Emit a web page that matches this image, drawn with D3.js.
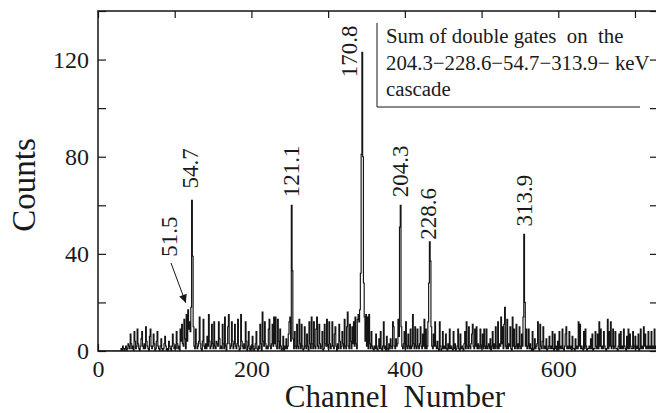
<!DOCTYPE html>
<html><head><meta charset="utf-8">
<script src="https://cdn.jsdelivr.net/npm/d3@7"></script>
<style>
body{margin:0;background:#fff}
svg{display:block}
text{font-family:"Liberation Serif","Times New Roman",serif;fill:#1a1a1a}
</style>
</head><body>
<svg id="chart" width="656" height="413"></svg>
<script>
// ---------- data ----------
const binWidth = 1; // one value per channel, starting at channel 0
const counts = [
  0,0,0,0,0,0,0,0,0,0, 0,0,0,0,0,0,0,0,0,0, 0,0,0,0,0,0,0,0,0,0,
  1,0,2,1,0,1,2,0,1,3,
  2,1,7,3,1,2,0,8,4,1,
  2,9,3,1,0,2,5,8,2,1,
  3,1,10,4,2,1,0,6,9,2,
  1,2,7,3,0,1,4,8,2,1,
  0,2,5,1,0,1,3,6,2,0,
  1,0,4,2,1,0,2,7,3,1,
  2,1,8,3,1,2,0,9,4,11,
  3,2,13,5,1,15,4,17,9,12,
  8,18,62,39,10,2,1,9,3,1,
  2,4,14,3,1,0,4,13,2,1,
  3,1,6,2,15,4,1,2,11,3,
  1,12,2,1,4,3,2,12,5,1,
  2,1,11,3,1,14,2,0,3,10,
  15,3,1,2,12,4,1,3,11,2,
  1,3,13,2,0,1,15,4,2,1,
  3,1,12,4,0,2,8,1,0,2,
  1,6,2,0,1,3,8,1,0,2,
  1,11,3,0,16,4,2,12,3,1,
  2,1,9,13,2,1,3,11,2,14,
  3,14,2,1,13,4,1,9,2,0,
  1,6,0,2,1,5,1,2,7,12,
  14,4,60,33,5,1,8,2,1,11,
  2,1,13,3,1,11,2,0,1,10,
  2,1,7,2,0,12,3,1,14,3,
  1,12,2,1,9,14,2,1,11,3,
  1,2,8,0,1,11,3,2,13,2,
  1,12,3,1,2,12,2,1,7,10,
  2,0,3,1,11,4,1,2,8,3,
  1,13,2,1,10,16,2,1,11,4,
  1,10,3,12,2,14,3,1,13,15,
  12,17,32,81,123,80,28,14,4,15,
  2,14,1,15,3,1,8,2,1,0,
  2,1,7,1,0,2,5,1,8,1,
  0,2,12,1,2,0,6,1,0,3,
  1,5,2,1,12,10,2,1,5,2,
  3,13,6,51,60,10,2,1,3,8,
  1,12,2,1,7,2,1,9,1,2,
  15,3,1,10,2,1,9,2,1,3,
  10,2,1,7,2,13,1,9,1,2,
  12,28,45,37,10,2,1,7,2,12,
  2,1,4,1,0,12,2,0,1,8,
  1,2,1,7,1,0,3,1,9,1,
  2,1,0,8,1,3,0,1,2,9,
  1,0,7,1,2,1,0,3,8,1,
  12,2,1,10,2,1,3,7,11,2,
  1,9,2,10,1,3,1,2,9,1,
  2,7,1,9,2,1,9,1,2,3,
  1,5,0,2,8,1,3,1,10,2,
  1,12,1,3,2,14,3,10,1,11,
  18,2,1,13,1,3,2,10,1,0,
  14,2,9,1,2,11,1,3,1,10,
  2,1,7,2,14,48,20,2,9,1,
  2,9,1,3,1,0,8,0,1,5,
  1,2,3,12,1,0,11,2,1,4,
  10,1,2,1,5,0,1,2,6,1,
  2,1,8,1,0,7,1,2,0,4,
  1,8,1,2,1,9,1,0,2,7,
  10,1,2,1,8,1,2,0,6,1,
  1,0,5,1,2,1,12,2,11,1,
  2,1,0,8,1,9,2,0,1,1,
  2,1,5,1,7,0,1,1,8,2,
  1,7,1,12,2,9,1,2,1,8,
  2,1,0,1,13,1,8,2,12,1,
  2,9,1,2,8,1,1,0,2,7,
  1,8,1,2,1,9,2,1,0,6,
  1,9,1,7,2,1,1,8,1,2,
  6,1,2,1,7,0,1,9,1,2,
  1,10,2,7,1,2,1,8,1,2,
  1,8,1,2,1,9,1,2,0,3
];
const xTickValues = [0,100,200,300,400,500,600,700];
const xTickLabels = [0,200,400,600];
const yTickValues = [0,20,40,60,80,100,120,140];
const yTickLabels = [0,40,80,120];
const peakEnergies = ["51.5","54.7","121.1","170.8","204.3","228.6","313.9"];
const peakChannels = [117,122,252,344,394,432,555];
const legendLines = ["Sum of double gates  on  the","204.3\u2212228.6\u221254.7\u2212313.9\u2212 keV","cascade"];
const xTitle = "Channel  Number";
const yTitle = "Counts";

// ---------- layout ----------
const L = 98, R = 658, T = 11, B = 351;
const ink = "#151515";
const serif = "'Liberation Serif','Times New Roman',serif";
const svg = d3.select("#chart");
const x = d3.scaleLinear().domain([0,730]).range([L,R]);
const y = d3.scaleLinear().domain([0,140]).range([B,T]);

svg.append("defs").append("clipPath").attr("id","plotclip")
  .append("rect").attr("x",L).attr("y",T).attr("width",R-L).attr("height",B-T);

// spectrum as step histogram
const pts = counts.map((c,i)=>[i*binWidth,c]);
pts.push([counts.length*binWidth, counts[counts.length-1]]);
const line = d3.line().x(d=>x(d[0])).y(d=>y(d[1])).curve(d3.curveStepAfter);
svg.append("path").attr("clip-path","url(#plotclip)")
  .attr("d",line(pts)).attr("fill","none").attr("stroke",ink).attr("stroke-width",1.15);

// axes (inward ticks)
function styleAxis(g){
  g.select(".domain").remove();
  g.attr("font-family",serif);
  g.selectAll(".tick line").attr("stroke",ink).attr("stroke-width",1.2);
  g.selectAll(".tick text").attr("font-size",24).attr("fill",ink).attr("font-family",serif);
}
svg.append("g").attr("transform",`translate(${L},0)`)
  .call(d3.axisLeft(y).tickValues(yTickValues).tickSize(-8).tickPadding(9)
    .tickFormat(d=>yTickLabels.includes(d)?d:""))
  .call(styleAxis);
svg.append("g").attr("transform",`translate(${R},0)`)
  .call(d3.axisRight(y).tickValues(yTickValues).tickSize(-8).tickFormat(""))
  .call(styleAxis);
svg.append("g").attr("transform",`translate(0,${B})`)
  .call(d3.axisBottom(x).tickValues(xTickValues).tickSize(-7).tickPadding(9)
    .tickFormat(d=>xTickLabels.includes(d)?d:""))
  .call(styleAxis);
svg.append("g").attr("transform",`translate(0,${T})`)
  .call(d3.axisTop(x).tickValues(xTickValues).tickSize(-7).tickFormat(""))
  .call(styleAxis);

// frame
svg.append("rect").attr("x",L).attr("y",T).attr("width",R-L).attr("height",B-T)
  .attr("fill","none").attr("stroke",ink).attr("stroke-width",1.5);

// axis titles
svg.append("text").attr("x",395).attr("y",407).attr("text-anchor","middle")
  .attr("font-family",serif).attr("font-size",31).style("white-space","pre").text(xTitle);
svg.append("text").attr("transform","translate(35,185) rotate(-90)").attr("text-anchor","middle")
  .attr("font-family",serif).attr("font-size",33).text(yTitle);

// peak labels
function peakTop(ch){
  const i = Math.floor(ch/binWidth);
  return d3.max(counts.slice(Math.max(0,i-1), i+2));
}
const labelShift = { "51.5":{dx:-19,dy:-45}, "54.7":{dx:-2,dy:-4}, "170.8":{dx:-13,dy:33}, "228.6":{dx:-1,dy:6} };
peakEnergies.forEach((e,k)=>{
  const ch = peakChannels[k];
  const top = e==="51.5" ? counts[Math.floor(ch/binWidth)] : peakTop(ch);
  const s = labelShift[e] || {dx:0,dy:0};
  const cx = x(ch) + s.dx;
  const yb = y(top) - 8 + s.dy;
  svg.append("text").attr("transform",`translate(${cx},${yb}) rotate(-90)`)
    .attr("dy","0.35em").attr("font-family",serif).attr("font-size",23).text(e);
});
// arrow to 51.5
const ax0 = 171, ay0 = 263, ax1 = x(117)-2, ay1 = y(counts[117])-7;
svg.append("defs").append("marker").attr("id","ah").attr("viewBox","0 0 10 10")
  .attr("refX",10).attr("refY",5).attr("markerWidth",11).attr("markerHeight",8)
  .attr("markerUnits","userSpaceOnUse").attr("orient","auto")
  .append("path").attr("d","M0,0 L10,5 L0,10 Z").attr("fill",ink);
svg.append("line").attr("x1",ax0).attr("y1",ay0).attr("x2",ax1).attr("y2",ay1)
  .attr("stroke",ink).attr("stroke-width",1).attr("marker-end","url(#ah)");

// legend (open box: left + bottom line)
const lg = svg.append("g");
lg.append("path").attr("d","M377,23 V107 H640").attr("fill","none").attr("stroke",ink).attr("stroke-width",1);
legendLines.forEach((t,i)=>{
  lg.append("text").attr("x",386).attr("y",[43,70,96][i])
    .attr("font-family",serif).attr("font-size",20.8).style("white-space","pre").text(t);
});
</script>
</body></html>
